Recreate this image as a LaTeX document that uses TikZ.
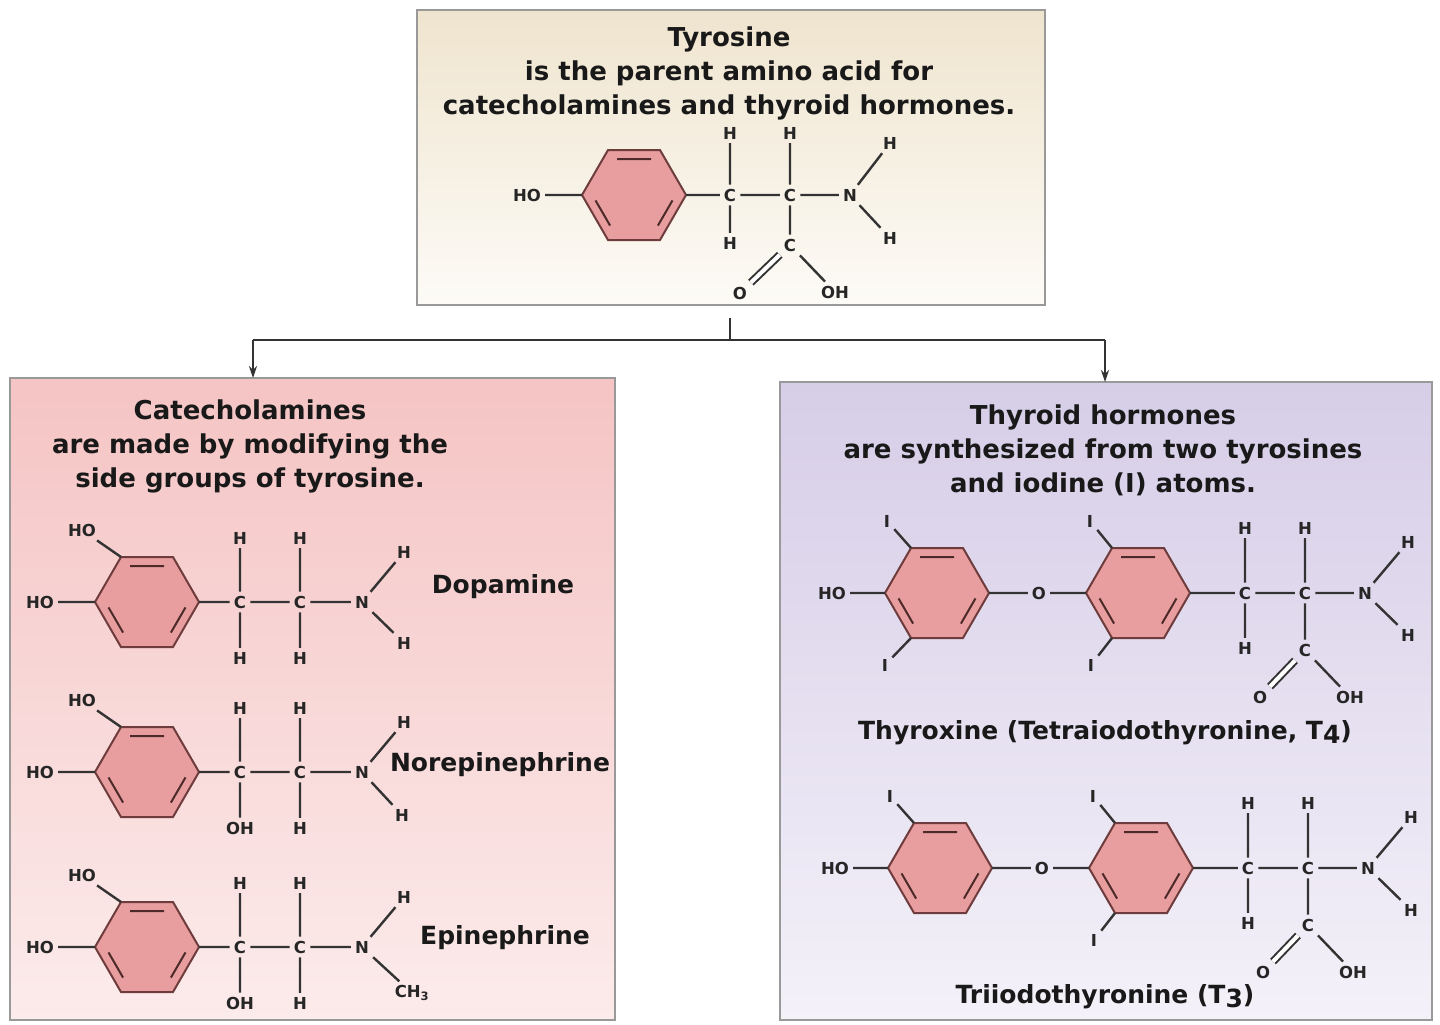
\documentclass[tikz,border=0pt]{standalone}
\usepackage{fontspec}
\usetikzlibrary{arrows.meta}
\setmainfont{DejaVu Sans}
\definecolor{ringf}{RGB}{232,158,158}
\definecolor{ringd}{RGB}{110,60,60}
\begin{document}
\begin{tikzpicture}[x=1pt,y=-1pt,
  bond/.style={line width=2.4pt,draw=black!80},
  ringst/.style={line width=2pt,draw=ringd,fill=ringf},
  atom/.style={inner sep=4pt,font=\bfseries\fontsize{16.5}{16.5}\selectfont,text=black!85},
  ttl/.style={align=center,font=\bfseries\fontsize{26}{34}\selectfont,text=black!90},
  nm/.style={align=center,font=\bfseries\fontsize{25}{34}\selectfont,text=black!90},
  box/.style={line width=2.5pt,draw=black!40},
  arr/.style={line width=1.5pt,draw=black!80,-{Stealth[length=12pt,width=8pt]}},
  dbl/.style={bond,double,double distance=4pt,line width=2pt},
  benz/.pic={
    \coordinate (-c) at (0,0);
    \coordinate (-r) at (52,0); \coordinate (-tr) at (26,-45); \coordinate (-tl) at (-26,-45);
    \coordinate (-l) at (-52,0); \coordinate (-bl) at (-26,45); \coordinate (-br) at (26,45);
    \draw[ringst] (52,0)--(26,-45)--(-26,-45)--(-52,0)--(-26,45)--(26,45)--cycle;
    \draw[line width=2pt,draw=ringd!70!black] (-17,-36)--(17,-36) (-38.5,5.4)--(-23.9,30.6) (38.5,5.4)--(23.9,30.6);
  }]
\useasboundingbox (0,0) rectangle (1440,1025);
\fill[white] (0,0) rectangle (1440,1025);
% boxes
\shade[top color={rgb,255:red,239;green,228;blue,206},bottom color={rgb,255:red,253;green,251;blue,247}] (417,10) rectangle (1045,305);
\draw[box] (417,10) rectangle (1045,305);
\shade[top color={rgb,255:red,245;green,196;blue,196},bottom color={rgb,255:red,252;green,235;blue,235}] (10,378) rectangle (615,1020);
\draw[box] (10,378) rectangle (615,1020);
\shade[top color={rgb,255:red,214;green,205;blue,231},bottom color={rgb,255:red,244;green,241;blue,249}] (780,382) rectangle (1432,1020);
\draw[box] (780,382) rectangle (1432,1020);
% titles
\node[ttl] (tt) at (729,73) {Tyrosine\\is the parent amino acid for\\catecholamines and thyroid hormones.};
\node[ttl] (ct) at (250,446) {Catecholamines\\are made by modifying the\\side groups of tyrosine.};
\node[ttl] (th) at (1103,450) {Thyroid hormones\\are synthesized from two tyrosines\\and iodine (I) atoms.};
% connectors
\coordinate (s) at (730,318); \coordinate (j) at (730,340);
\coordinate (jl) at (253,340); \coordinate (jr) at (1105,340);
\coordinate (el) at (253,378); \coordinate (er) at (1105,382);
\draw[line width=1.5pt,draw=black!80] (s)--(j) (jl)--(jr);
\draw[arr] (jl)--(el); \draw[arr] (jr)--(er);
% ---------- Tyrosine
\pic (ty) at (634,195) {benz};
\node[atom] (tho) at (527,195) {HO};
\node[atom] (tc1) at (730,195) {C}; \node[atom] (th1) at (730,133) {H}; \node[atom] (th2) at (730,243) {H};
\node[atom] (tc2) at (790,195) {C}; \node[atom] (th3) at (790,133) {H};
\node[atom] (tn) at (850,195) {N}; \node[atom] (th4) at (890,143) {H}; \node[atom] (th5) at (890,238) {H};
\node[atom] (tc3) at (790,245) {C}; \node[atom] (to) at (740,293) {O}; \node[atom] (toh) at (835,292) {OH};
\draw[bond] (tho)--(ty-l) (ty-r)--(tc1) (tc1)--(th1) (tc1)--(th2) (tc1)--(tc2) (tc2)--(th3) (tc2)--(tn) (tn)--(th4) (tn)--(th5) (tc2)--(tc3) (tc3)--(toh);
\draw[dbl] (tc3)--(to);
% ---------- Catecholamines
\foreach \n/\y in {d/602,ne/772,e/947}{
  \pic (\n r) at (147,\y) {benz};
  \node[atom] (\n ho1) at (82,\y-72) {HO};
  \node[atom] (\n ho2) at (40,\y) {HO};
  \node[atom] (\n c1) at (240,\y) {C};
  \node[atom] (\n h1) at (240,\y-64) {H};
  \node[atom] (\n c2) at (300,\y) {C};
  \node[atom] (\n h3) at (300,\y-64) {H};
  \node[atom] (\n h4) at (300,\y+56) {H};
  \node[atom] (\n n) at (362,\y) {N};
  \node[atom] (\n h5) at (404,\y-50) {H};
  \draw[bond] (\n ho1)--(\n r-tl) (\n ho2)--(\n r-l) (\n r-r)--(\n c1) (\n c1)--(\n h1) (\n c1)--(\n c2) (\n c2)--(\n h3) (\n c2)--(\n h4) (\n c2)--(\n n) (\n n)--(\n h5);
}
\node[atom] (dh2) at (240,658) {H}; \node[atom] (dh6) at (404,643) {H};
\node[atom] (neh2) at (240,828) {OH}; \node[atom] (neh6) at (402,815) {H};
\node[atom] (eh2) at (240,1003) {OH}; \node[atom] (eh6) at (412,993) {CH\textsubscript{3}};
\draw[bond] (dc1)--(dh2) (dn)--(dh6) (nec1)--(neh2) (nen)--(neh6) (ec1)--(eh2) (en)--(eh6);
\node[nm] (dl) at (503,587) {Dopamine};
\node[nm] (nel) at (500,765) {Norepinephrine};
\node[nm] (el2) at (505,938) {Epinephrine};
% ---------- Thyroid
\foreach \n/\y/\dx in {a/593/0,b/868/3}{
  \pic (\n r1) at (937+\dx,\y) {benz};
  \pic (\n r2) at (1138+\dx,\y) {benz};
  \node[atom] (\n ho) at (832+\dx,\y) {HO};
  \node[atom] (\n o) at (1039+\dx,\y) {O};
  \node[atom] (\n i1) at (887+\dx,\y-72) {I};
  \node[atom] (\n i3) at (1090+\dx,\y-72) {I};
  \node[atom] (\n i4) at (1091+\dx,\y+72) {I};
  \node[atom] (\n c1) at (1245+\dx,\y) {C};
  \node[atom] (\n h1) at (1245+\dx,\y-65) {H};
  \node[atom] (\n h2) at (1245+\dx,\y+55) {H};
  \node[atom] (\n c2) at (1305+\dx,\y) {C};
  \node[atom] (\n h3) at (1305+\dx,\y-65) {H};
  \node[atom] (\n n) at (1365+\dx,\y) {N};
  \node[atom] (\n h4) at (1408+\dx,\y-51) {H};
  \node[atom] (\n h5) at (1408+\dx,\y+42) {H};
  \node[atom] (\n c3) at (1305+\dx,\y+57) {C};
  \node[atom] (\n oo) at (1260+\dx,\y+104) {O};
  \node[atom] (\n oh) at (1350+\dx,\y+104) {OH};
  \draw[bond] (\n ho)--(\n r1-l) (\n r1-r)--(\n o) (\n o)--(\n r2-l) (\n i1)--(\n r1-tl) (\n i3)--(\n r2-tl) (\n i4)--(\n r2-bl) (\n r2-r)--(\n c1) (\n c1)--(\n h1) (\n c1)--(\n h2) (\n c1)--(\n c2) (\n c2)--(\n h3) (\n c2)--(\n n) (\n n)--(\n h4) (\n n)--(\n h5) (\n c2)--(\n c3) (\n c3)--(\n oh);
  \draw[dbl] (\n c3)--(\n oo);
}
\node[atom] (ai2) at (885,665) {I};
\draw[bond] (ai2)--(ar1-bl);
\node[nm] (tl1) at (1105,733) {Thyroxine (Tetraiodothyronine, T\raisebox{-4pt}{4})};
\node[nm] (tl2) at (1105,997) {Triiodothyronine (T\raisebox{-4pt}{3})};
\end{tikzpicture}
\end{document}
